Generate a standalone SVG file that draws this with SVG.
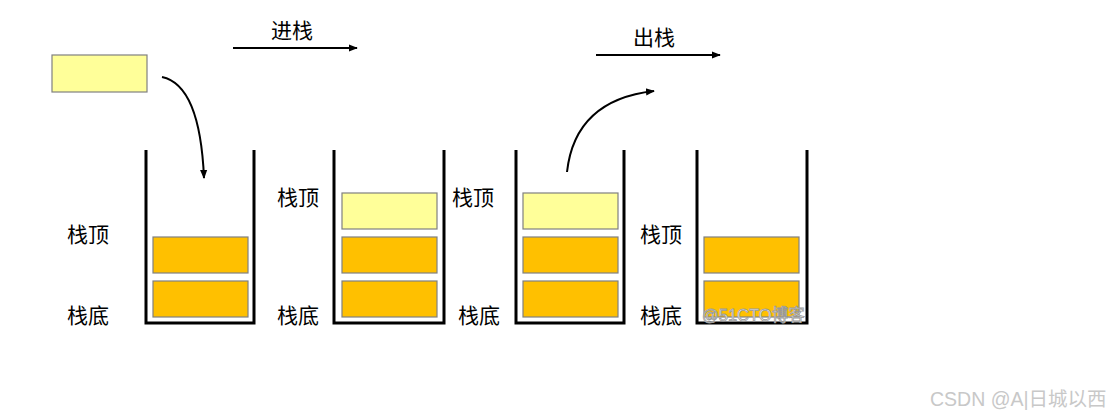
<svg xmlns="http://www.w3.org/2000/svg" width="1115" height="420" viewBox="0 0 1115 420">
<style>
.wall{fill:none;stroke:#000;stroke-width:3;stroke-linejoin:miter}
.box{fill:#FFC000;stroke:#808080;stroke-width:1.2}
.new{fill:#FFFF99;stroke:#808080;stroke-width:1.2}
.lbl{font-family:"Noto Sans CJK SC","Noto Sans",sans-serif;font-size:21px;fill:#000}
.con{fill:none;stroke:#000;stroke-width:2}
.wm{font-family:"Liberation Sans","Noto Sans CJK SC",sans-serif;font-size:16.5px;fill:#fff;stroke:#999;stroke-width:0.8}
.csdn{font-family:"Liberation Sans","Noto Sans CJK SC",sans-serif;font-size:19.5px;fill:#c8c8c8}
</style>
<defs>
<marker id="ah" viewBox="0 0 10 10" refX="9" refY="5" markerWidth="4.5" markerHeight="4.5" orient="auto" markerUnits="strokeWidth">
<path d="M0,1 L10,5 L0,9 z" fill="#000"/>
</marker>
</defs>
<rect width="1115" height="420" fill="#fff"/>
<g id="incoming">
<rect class="new" x="52" y="55" width="95" height="37"/>
</g>
<g id="stack1">
<path class="wall" d="M146,150 V323 H254 V150"/>
<rect class="box" x="153" y="237" width="95" height="36"/>
<rect class="box" x="153" y="281" width="95" height="36"/>
<text class="lbl" x="67" y="242">栈顶</text>
<text class="lbl" x="67" y="323">栈底</text>
</g>
<g id="stack2">
<path class="wall" d="M334,150 V323 H444 V150"/>
<rect class="new" x="342" y="193" width="95" height="36"/>
<rect class="box" x="342" y="237" width="95" height="36"/>
<rect class="box" x="342" y="281" width="95" height="36"/>
<text class="lbl" x="277" y="205">栈顶</text>
<text class="lbl" x="277" y="323">栈底</text>
</g>
<g id="stack3">
<path class="wall" d="M516,150 V323 H624 V150"/>
<rect class="new" x="523" y="193" width="95" height="36"/>
<rect class="box" x="523" y="237" width="95" height="36"/>
<rect class="box" x="523" y="281" width="95" height="36"/>
<text class="lbl" x="452" y="205">栈顶</text>
<text class="lbl" x="458" y="323">栈底</text>
</g>
<g id="stack4">
<path class="wall" d="M697,150 V323 H807 V150"/>
<rect class="box" x="704" y="237" width="95" height="36"/>
<rect class="box" x="704" y="281" width="95" height="36"/>
<text class="lbl" x="640" y="242">栈顶</text>
<text class="lbl" x="640" y="323">栈底</text>
</g>
<g id="connectors">
<path class="con" d="M162,77 Q200,85 204,178" marker-end="url(#ah)"/>
<path class="con" d="M567,172 Q575,100 654,91" marker-end="url(#ah)"/>
<line class="con" x1="233" y1="48" x2="357" y2="48" marker-end="url(#ah)"/>
<line class="con" x1="596" y1="55" x2="720" y2="55" marker-end="url(#ah)"/>
</g>
<g id="titles">
<text class="lbl" x="271" y="38">进栈</text>
<text class="lbl" x="633" y="45">出栈</text>
</g>
<text class="wm" x="702" y="321">@51CTO博客</text>
<text class="csdn" x="930" y="406">CSDN @A|日城以西</text>
</svg>
